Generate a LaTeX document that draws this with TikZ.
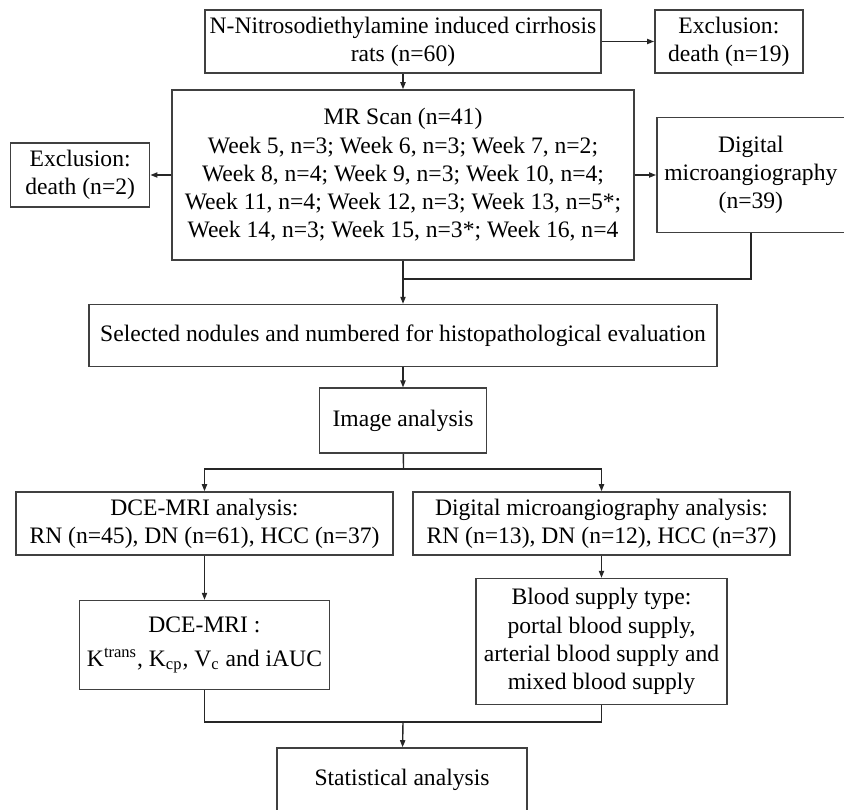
\documentclass[tikz,border=0pt]{standalone}
\usepackage{fontspec}
\setmainfont{Liberation Serif}
\usetikzlibrary{positioning,arrows.meta}

\begin{document}
\begin{tikzpicture}[x=0.5pt, y=-0.5pt,
  box/.style={draw=black!75, line width=0.8pt, align=center, inner sep=0pt, font=\fontsize{11.8}{14.1}\selectfont},
  arr/.style={-{Triangle[length=3.5pt, width=2.6pt]}, line width=0.7pt, draw=black!85},
  ln/.style={line width=0.7pt, draw=black!85}
]
\useasboundingbox (0,0) rectangle (844,809);

\node[box, minimum width=198.25pt, minimum height=31.5pt] (rats) at (403,41.5) {N-Nitrosodiethylamine induced cirrhosis\\rats (n=60)};
\node[box, minimum width=74pt, minimum height=31.5pt, right=26pt of rats] (excla) {Exclusion:\\death (n=19)};
\node[box, minimum width=230.75pt, minimum height=85pt] (mrscan) at (403,175) {MR Scan (n=41)\\Week 5, n=3; Week 6, n=3; Week 7, n=2;\\Week 8, n=4; Week 9, n=3; Week 10, n=4;\\Week 11, n=4; Week 12, n=3; Week 13, n=5*;\\Week 14, n=3; Week 15, n=3*; Week 16, n=4};
\node[box, minimum width=69.5pt, minimum height=32pt, left=10.5pt of mrscan] (exclb) {Exclusion:\\death (n=2)};
\node[box, minimum width=94pt, minimum height=57.5pt, right=10.75pt of mrscan] (digital) {Digital\\microangiography\\(n=39)};
\node[box, minimum width=314.25pt, minimum height=31pt, below=21.5pt of mrscan] (selected) {Selected nodules and numbered for histopathological evaluation};
\node[box, minimum width=83.5pt, minimum height=32.5pt, below=10pt of selected] (image) {Image analysis};
\node[box, minimum width=188.5pt, minimum height=31.5pt] (dceana) at (204.5,523.5) {DCE-MRI analysis:\\RN (n=45), DN (n=61), HCC (n=37)};
\node[box, minimum width=188.5pt, minimum height=31.5pt] (dmaana) at (601.5,523.5) {Digital microangiography analysis:\\RN (n=13), DN (n=12), HCC (n=37)};
\node[box, minimum width=125pt, minimum height=44.5pt, below=22pt of dceana] (dcemri) {DCE-MRI :\\[2.8pt]K\textsuperscript{trans}, K\textsubscript{cp}, V\textsubscript{c} and iAUC};
\node[box, minimum width=125.5pt, minimum height=63pt, below=11pt of dmaana] (blood) {Blood supply type:\\portal blood supply,\\arterial blood supply and\\mixed blood supply};
\node[box, minimum width=125pt, minimum height=32pt] (stat) at (402,780) {Statistical analysis};

\coordinate (joina) at (403,279);
\coordinate (joinb) at (403.5,469);
\coordinate (joinc) at (403,722);

\draw[arr] (rats) -- (excla);
\draw[arr] (rats) -- (mrscan);
\draw[arr] (mrscan) -- (exclb);
\draw[arr] (mrscan) -- (digital);
\draw[arr] (mrscan) -- (selected);
\draw[ln] (digital.south) |- (joina);
\draw[arr] (selected) -- (image);
\draw[ln] (image) -- (joinb);
\draw[arr] (joinb) -| (dceana);
\draw[arr] (joinb) -| (dmaana);
\draw[arr] (dceana) -- (dcemri);
\draw[arr] (dmaana) -- (blood);
\draw[ln] (dcemri) |- (joinc);
\draw[ln] (blood) |- (joinc);
\draw[arr] (joinc) -- (stat);
\end{tikzpicture}
\end{document}
